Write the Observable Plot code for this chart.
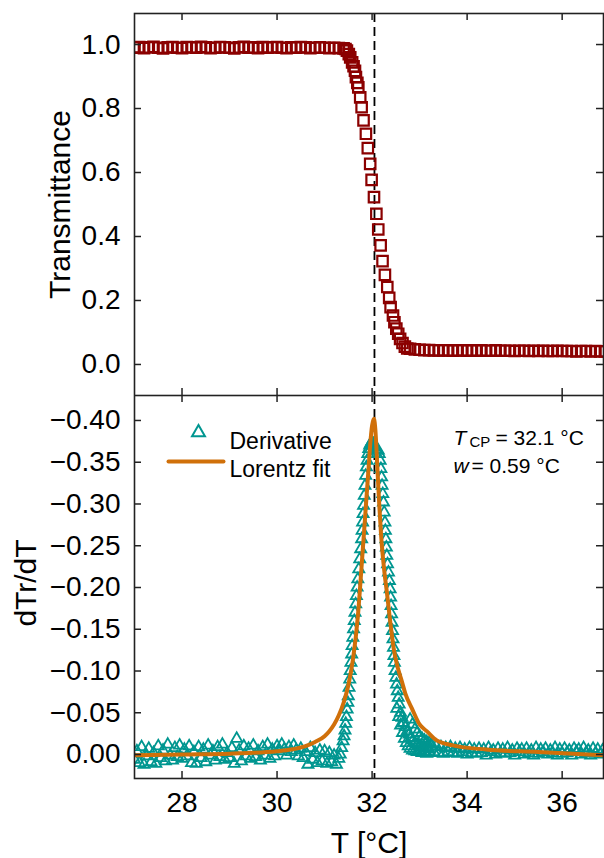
<!DOCTYPE html>
<html><head><meta charset="utf-8">
<script src="https://cdn.jsdelivr.net/npm/d3@7"></script>
<script src="https://cdn.jsdelivr.net/npm/@observablehq/plot@0.6"></script>
<style>
html,body{margin:0;padding:0;background:#fff;}
#chart{width:604px;height:858px;overflow:hidden;}
#chart svg{display:block;}
</style></head><body><div id="chart"></div>
<script>
// ---------- data ----------
const xTicks = [28, 30, 32, 34, 36];
const trTicks = [0.0, 0.2, 0.4, 0.6, 0.8, 1.0];
const dTicks = [-0.40, -0.35, -0.30, -0.25, -0.20, -0.15, -0.10, -0.05, 0.00];
const tCP = 32.05;

// [temperature °C, transmittance]
const transmittance = [
[27.0,0.990],[27.1,0.992],[27.2,0.989],[27.3,0.991],[27.4,0.993],[27.5,0.990],[27.6,0.988],[27.7,0.991],[27.8,0.992],[27.9,0.990],
[28.0,0.989],[28.1,0.992],[28.2,0.991],[28.3,0.990],[28.4,0.993],[28.5,0.991],[28.6,0.989],[28.7,0.990],[28.8,0.992],[28.9,0.991],
[29.0,0.990],[29.1,0.988],[29.2,0.991],[29.3,0.993],[29.4,0.990],[29.5,0.991],[29.6,0.989],[29.7,0.992],[29.8,0.990],[29.9,0.991],
[30.0,0.992],[30.1,0.990],[30.2,0.989],[30.3,0.991],[30.4,0.990],[30.5,0.992],[30.6,0.991],[30.7,0.989],[30.8,0.990],[30.9,0.991],
[31.0,0.990],[31.1,0.989],[31.2,0.990],[31.3,0.989],[31.4,0.988],
[31.44,0.986],[31.47,0.981],[31.51,0.970],[31.54,0.960],[31.58,0.944],[31.61,0.932],[31.64,0.918],[31.66,0.898],[31.69,0.880],[31.71,0.866],
[31.75,0.835],[31.78,0.804],[31.82,0.763],[31.87,0.721],[31.91,0.676],[31.96,0.627],[31.99,0.577],[32.04,0.523],[32.09,0.471],[32.13,0.422],
[32.18,0.372],[32.22,0.323],[32.27,0.280],[32.32,0.242],[32.36,0.208],[32.39,0.179],[32.44,0.153],[32.47,0.132],[32.51,0.112],[32.55,0.096],
[32.59,0.080],[32.64,0.067],[32.69,0.056],[32.74,0.050],
[32.8,0.049],[32.9,0.047],[33.0,0.046],[33.1,0.045],[33.2,0.045],[33.3,0.044],[33.4,0.044],[33.5,0.044],[33.6,0.044],[33.7,0.043],
[33.8,0.044],[33.9,0.044],[34.0,0.043],[34.1,0.044],[34.2,0.043],[34.3,0.044],[34.4,0.043],[34.5,0.043],[34.6,0.044],[34.7,0.043],
[34.8,0.043],[34.9,0.043],[35.0,0.042],[35.1,0.043],[35.2,0.043],[35.3,0.042],[35.4,0.043],[35.5,0.042],[35.6,0.043],[35.7,0.042],
[35.8,0.042],[35.9,0.043],[36.0,0.042],[36.1,0.042],[36.2,0.042],[36.3,0.041],[36.4,0.042],[36.5,0.042],[36.6,0.041],[36.7,0.042],
[36.8,0.041],[36.9,0.041]
];

// [temperature °C, dTr/dT]
const derivative = [
[27.00,0.006],[27.05,-0.004],[27.10,0.010],[27.15,-0.009],[27.20,0.012],[27.25,0.002],[27.30,-0.007],[27.35,0.009],[27.40,-0.002],[27.45,0.011],
[27.50,-0.010],[27.55,0.004],[27.60,-0.005],[27.65,0.008],[27.70,-0.012],[27.75,0.001],[27.80,0.007],[27.85,-0.008],[27.90,0.003],[27.95,-0.011],
[28.00,0.005],[28.05,-0.006],[28.10,0.002],[28.15,-0.010],[28.20,0.010],[28.25,-0.003],[28.30,0.011],[28.35,-0.009],[28.40,0.004],[28.45,-0.006],
[28.50,0.009],[28.55,-0.011],[28.60,0.001],[28.65,-0.004],[28.70,0.007],[28.75,-0.009],[28.80,0.003],[28.85,-0.012],[28.90,0.006],[28.95,-0.002],
[29.00,0.004],[29.05,-0.008],[29.10,0.011],[29.15,-0.019],[29.20,-0.005],[29.25,0.008],[29.30,-0.010],[29.35,0.002],[29.40,-0.007],[29.45,0.005],
[29.50,-0.011],[29.55,0.003],[29.60,-0.004],[29.65,0.007],[29.70,-0.009],[29.75,0.001],[29.80,-0.012],[29.85,0.005],[29.90,-0.006],[29.95,0.002],
[30.00,-0.010],[30.05,-0.004],[30.10,-0.012],[30.15,-0.006],[30.20,0.001],[30.25,-0.009],[30.30,-0.003],[30.35,-0.011],[30.40,-0.005],[30.45,0.002],
[30.50,-0.007],[30.55,0.004],[30.60,-0.003],[30.65,0.012],[30.70,-0.008],[30.75,0.006],[30.80,-0.002],[30.85,0.010],[30.90,-0.005],[30.95,0.008],
[31.00,-0.004],[31.05,0.011],[31.10,-0.002],[31.15,0.009],[31.20,0.001],[31.25,0.012],[31.30,0.005],
[31.33,0.000],[31.36,-0.008],[31.39,-0.016],[31.41,-0.022],[31.43,-0.029],[31.445,-0.037],[31.46,-0.045],[31.475,-0.054],[31.49,-0.062],[31.50,-0.070],
[31.515,-0.080],[31.53,-0.090],[31.54,-0.100],[31.555,-0.110],[31.57,-0.120],[31.58,-0.130],[31.595,-0.140],[31.61,-0.150],[31.625,-0.160],[31.64,-0.170],
[31.655,-0.180],[31.67,-0.190],[31.685,-0.200],[31.70,-0.210],[31.72,-0.222],[31.74,-0.234],[31.76,-0.246],[31.78,-0.258],[31.79,-0.268],[31.80,-0.278],
[31.81,-0.288],[31.82,-0.298],[31.835,-0.310],[31.85,-0.322],[31.865,-0.334],[31.88,-0.344],[31.895,-0.352],[31.91,-0.360],[31.93,-0.366],[31.95,-0.370],
[31.97,-0.372],[31.99,-0.374],[32.01,-0.372],
[32.03,-0.372],[32.05,-0.370],[32.07,-0.368],[32.09,-0.366],[32.11,-0.364],[32.13,-0.364],[32.15,-0.360],[32.17,-0.352],[32.185,-0.342],[32.20,-0.332],
[32.21,-0.322],[32.225,-0.312],[32.24,-0.302],[32.255,-0.290],[32.27,-0.278],[32.28,-0.268],[32.29,-0.258],[32.30,-0.248],[32.31,-0.238],[32.325,-0.228],
[32.345,-0.218],[32.365,-0.208],[32.38,-0.198],[32.39,-0.188],[32.40,-0.178],[32.41,-0.168],[32.42,-0.158],[32.43,-0.148],[32.44,-0.138],[32.45,-0.128],
[32.46,-0.118],[32.47,-0.110],[32.485,-0.100],[32.50,-0.092],[32.515,-0.084],[32.53,-0.076],[32.55,-0.068],[32.57,-0.060],[32.60,-0.050],[32.63,-0.044],
[32.66,-0.038],[32.70,-0.033],[32.74,-0.028],[32.78,-0.024],[32.82,-0.020],[32.86,-0.017],[32.90,-0.014],[32.95,-0.012],[33.00,-0.010],[33.05,-0.009],
[33.10,-0.008],[33.15,-0.007],[33.20,-0.006],
[32.52,-0.055],[32.56,-0.045],[32.60,-0.035],[32.64,-0.026],[32.68,-0.019],[32.72,-0.014],[32.76,-0.010],[32.80,-0.007],[32.85,-0.005],[32.90,-0.004],
[32.95,-0.003],[33.00,-0.004],[33.05,-0.002],[33.10,-0.003],[33.15,-0.001],[33.20,-0.003],
[32.80,-0.042],[32.85,-0.036],[32.90,-0.030],[32.95,-0.026],[33.00,-0.022],[33.05,-0.019],[33.10,-0.017],[33.15,-0.015],[33.20,-0.014],
[33.25,-0.012],[33.30,-0.003],[33.35,-0.010],[33.40,-0.002],[33.45,-0.009],[33.50,-0.001],[33.55,-0.008],[33.60,-0.003],[33.65,-0.009],[33.70,-0.002],
[33.75,-0.007],[33.80,-0.001],[33.85,-0.008],[33.90,-0.003],[33.95,-0.006],[34.00,0.000],[34.05,-0.008],[34.10,-0.002],[34.15,-0.006],[34.20,-0.001],
[34.25,-0.007],[34.30,-0.002],[34.35,-0.006],[34.40,0.001],[34.45,-0.008],[34.50,-0.003],[34.55,-0.005],[34.60,0.000],[34.65,-0.007],[34.70,-0.002],
[34.75,-0.006],[34.80,-0.001],[34.85,-0.008],[34.90,-0.002],[34.95,-0.005],[35.00,0.001],[35.05,-0.007],[35.10,-0.003],[35.15,-0.006],[35.20,0.000],
[35.25,-0.007],[35.30,-0.002],[35.35,-0.005],[35.40,0.001],[35.45,-0.008],[35.50,-0.001],[35.55,-0.006],[35.60,-0.003],[35.65,-0.007],[35.70,0.000],
[35.75,-0.005],[35.80,-0.002],[35.85,-0.008],[35.90,0.001],[35.95,-0.006],[36.00,-0.001],[36.05,-0.007],[36.10,-0.002],[36.15,-0.005],[36.20,0.001],
[36.25,-0.007],[36.30,-0.003],[36.35,-0.006],[36.40,0.000],[36.45,-0.008],[36.50,-0.002],[36.55,-0.005],[36.60,0.001],[36.65,-0.007],[36.70,-0.001],
[36.75,-0.006],[36.80,0.000],[36.85,-0.005],[36.90,-0.002]
];

// [temperature °C, Lorentz fit]
const lorentzFit = [
[27.0,0.001],[28.0,0.000],[29.0,-0.001],[29.5,-0.002],[30.0,-0.004],[30.3,-0.006],[30.6,-0.010],[30.8,-0.015],[31.0,-0.022],[31.1,-0.028],
[31.2,-0.036],[31.3,-0.047],[31.4,-0.062],[31.5,-0.083],[31.6,-0.115],[31.7,-0.165],[31.77,-0.218],[31.82,-0.258],[31.87,-0.298],[31.92,-0.338],
[31.97,-0.378],[32.00,-0.394],[32.04,-0.402],[32.07,-0.388],[32.11,-0.345],[32.15,-0.300],[32.19,-0.262],[32.26,-0.218],[32.31,-0.195],[32.38,-0.160],
[32.46,-0.125],[32.55,-0.102],[32.62,-0.089],[32.70,-0.073],[32.84,-0.055],[33.0,-0.036],[33.15,-0.028],[33.36,-0.017],[33.7,-0.011],[34.4,-0.006],
[35.5,-0.003],[36.87,0.001]
];

const legendLabels = ["Derivative", "Lorentz fit"];

// ---------- styling ----------
const teal = "#009690", darkred = "#8b0000", orange = "#d0700a";
const font = "'Liberation Sans', Arial, Helvetica, sans-serif";
const xDomain = [27.0, 36.87];
const W = 604, ML = 134, MR = 1;
const frameW = W - ML - MR;
const TICK = 7;
const tickStyle = {stroke: "#222", strokeWidth: 1.5};
const dashed = {stroke: "#000", strokeWidth: 1.8, strokeDasharray: "9,5"};
const style = {fontFamily: font, fontSize: "28px", background: "white", color: "#000"};
const lineShape = {draw(ctx, l) { ctx.moveTo(0, 0); ctx.lineTo(0, -l); }};

// inward tick marks on all four sides
function inwardTicks(yTicks, frameH) {
  return [
    Plot.tickX(xTicks, {x: d => d, insetBottom: frameH - TICK, ...tickStyle}),
    Plot.tickX(xTicks, {x: d => d, insetTop: frameH - TICK, ...tickStyle}),
    Plot.tickY(yTicks, {y: d => d, insetRight: frameW - TICK, ...tickStyle}),
    Plot.tickY(yTicks, {y: d => d, insetLeft: frameW - TICK, ...tickStyle})
  ];
}

const topH = 395, topMT = 13, topMB = 0;
const topPlot = Plot.plot({
  width: W, height: topH, marginLeft: ML, marginRight: MR, marginTop: topMT, marginBottom: topMB,
  style,
  x: {domain: xDomain, axis: null},
  y: {domain: [-0.097, 1.097], axis: null},
  marks: [
    Plot.ruleX([tCP], dashed),
    Plot.dot(transmittance, {x: d => d[0], y: d => d[1], symbol: "square", r: 5.9,
      stroke: darkred, strokeWidth: 2.2, fill: "none", clip: true}),
    Plot.axisY({anchor: "left", ticks: trTicks, tickFormat: d3.format(".1f"), tickSize: 0, tickPadding: 14, label: null, fontSize: 28}),
    ...inwardTicks(trTicks, topH - topMT - topMB),
    Plot.frame({stroke: "#222", strokeWidth: 1.6}),
    Plot.text(["Transmittance"], {text: d => d, frameAnchor: "left", textAnchor: "middle", dx: -74, rotate: -90, fontSize: 30})
  ]
});

const botH = 463, botMT = 0, botMB = 80;
const bottomPlot = Plot.plot({
  width: W, height: botH, marginLeft: ML, marginRight: MR, marginTop: botMT, marginBottom: botMB,
  style,
  x: {domain: xDomain},
  y: {domain: [0.0287, -0.4299]},
  marks: [
    Plot.ruleX([tCP], dashed),
    Plot.dot(derivative, {x: d => d[0], y: d => d[1], symbol: "triangle", r: 4.1,
      stroke: teal, strokeWidth: 1.8, fill: "none", clip: true}),
    Plot.line(lorentzFit, {x: d => d[0], y: d => d[1], stroke: orange, strokeWidth: 4,
      curve: "monotone-x", clip: true}),
    Plot.axisY({anchor: "left", ticks: dTicks, tickFormat: d3.format(".2f"), tickSize: 0, tickPadding: 14, label: null, fontSize: 28}),
    Plot.axisX({anchor: "bottom", ticks: xTicks, tickFormat: d => String(d), tickSize: 0, tickPadding: 14, label: null, fontSize: 28}),
    ...inwardTicks(dTicks, botH - botMT - botMB),
    Plot.frame({stroke: "#222", strokeWidth: 1.6}),
    // legend
    Plot.dot([legendLabels[0]], {frameAnchor: "top-left", dx: 64, dy: 37, symbol: "triangle", r: 4.8,
      stroke: teal, strokeWidth: 2, fill: "none"}),
    Plot.vector([legendLabels[1]], {frameAnchor: "top-left", dx: 34, dy: 66, length: 55, rotate: 90,
      anchor: "start", shape: lineShape, stroke: orange, strokeWidth: 4}),
    Plot.text([legendLabels[0]], {text: d => d, frameAnchor: "top-left", dx: 95, dy: 37, textAnchor: "start", fontSize: 23}),
    Plot.text([legendLabels[1]], {text: d => d, frameAnchor: "top-left", dx: 95, dy: 65, textAnchor: "start", fontSize: 23}),
    // annotation
    Plot.text(["T"], {text: d => d, frameAnchor: "top-left", dx: 319, dy: 35, textAnchor: "start", fontSize: 21, fontStyle: "italic"}),
    Plot.text(["CP"], {text: d => d, frameAnchor: "top-left", dx: 335, dy: 41, textAnchor: "start", fontSize: 15}),
    Plot.text(["= 32.1 °C"], {text: d => d, frameAnchor: "top-left", dx: 361, dy: 35, textAnchor: "start", fontSize: 21}),
    Plot.text(["w"], {text: d => d, frameAnchor: "top-left", dx: 319, dy: 63, textAnchor: "start", fontSize: 21, fontStyle: "italic"}),
    Plot.text(["= 0.59 °C"], {text: d => d, frameAnchor: "top-left", dx: 337, dy: 63, textAnchor: "start", fontSize: 21}),
    // axis labels
    Plot.text(["dTr/dT"], {text: d => d, frameAnchor: "left", textAnchor: "middle", dx: -108, dy: -4, rotate: -90, fontSize: 30}),
    Plot.text(["T [°C]"], {text: d => d, frameAnchor: "bottom", textAnchor: "middle", dy: 74, lineAnchor: "bottom", fontSize: 30})
  ]
});

const chart = document.getElementById("chart");
chart.appendChild(topPlot);
chart.appendChild(bottomPlot);
</script>
</body></html>
